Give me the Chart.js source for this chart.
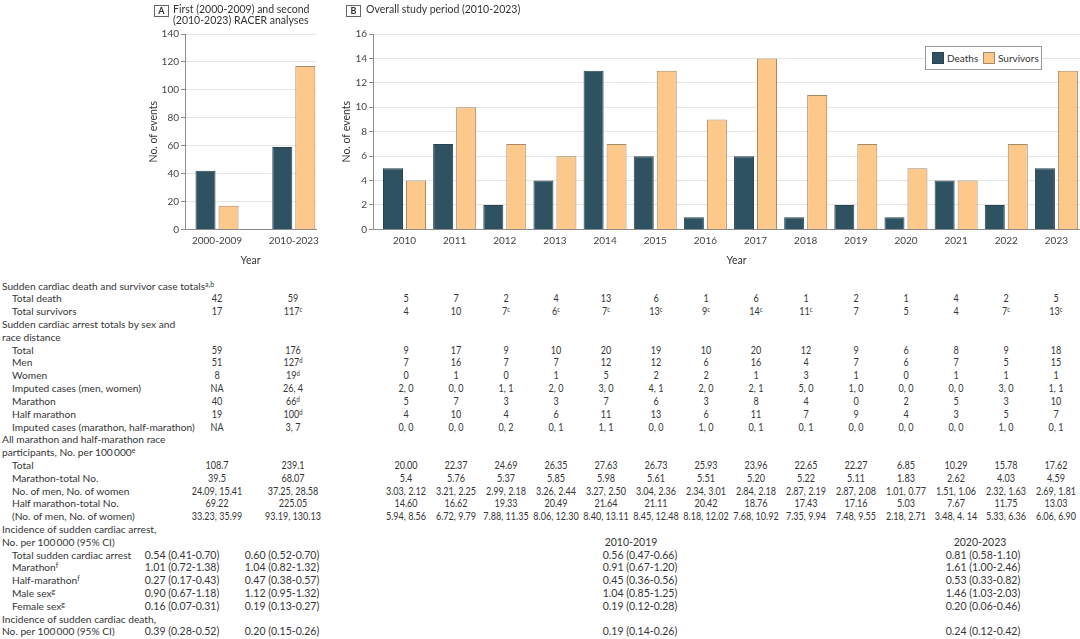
<!DOCTYPE html>
<html>
<head>
<meta charset="utf-8">
<script src="https://cdn.jsdelivr.net/npm/chart.js@4.4.1/dist/chart.umd.min.js"></script>
<style>
  html, body { margin: 0; padding: 0; background: #fff; overflow: hidden; }
  #page { position: relative; width: 1080px; height: 639px; overflow: hidden; font-family: Lato, sans-serif; color: #333; }
  canvas { position: absolute; top: 0; }
  .tag { position: absolute; top: 5px; width: 13px; height: 10px; border: 1px solid #666; font: bold 9px/10px Lato, sans-serif; text-align: center; color: #333; }
  .title { position: absolute; font-size: 10.5px; line-height: 11.4px; white-space: nowrap; }
  .cell { position: absolute; font-size: 10.5px; line-height: 12.8px; height: 12.8px; white-space: nowrap; color: #363636; }
  .cell.lab { font-size: 10.2px; }
  .cell.num { transform: scaleX(0.86); transform-origin: 50% 50%; }
  .cell sup { font-size: 7px; vertical-align: 3px; line-height: 0; }
  #legendB { position: absolute; left: 925px; top: 46px; width: 115px; height: 22px; border: 1px solid #9a9a9a; background: #fff;
             font-size: 10px; color: #333; }
  #legendB .sw { position: absolute; top: 5px; width: 12px; height: 12px; box-sizing: border-box; border: 1px solid; }
  #legendB .lb { position: absolute; top: 4px; line-height: 14px; white-space: nowrap; }
</style>
</head>
<body>
<div id="page">
  <canvas id="chartA" width="200" height="270" style="left:130px"></canvas>
  <canvas id="chartB" width="792" height="270" style="left:318px"></canvas>
  <div class="tag" style="left:154px">A</div>
  <div class="title" style="left:173px; top:4px">First (2000-2009) and second<br>(2010-2023) RACER analyses</div>
  <div class="tag" style="left:346px">B</div>
  <div class="title" style="left:366px; top:4px">Overall study period (2010-2023)</div>
  <div id="legendB"></div>
  <div id="table"></div>
</div>
<script>
// chart data
const periods = ['2000-2009', '2010-2023'];
const periodDeaths = [42, 59];
const periodSurvivors = [17, 117];
const years = ['2010', '2011', '2012', '2013', '2014', '2015', '2016', '2017', '2018', '2019', '2020', '2021', '2022', '2023'];
const deathsByYear = [5, 7, 2, 4, 13, 6, 1, 6, 1, 2, 1, 4, 2, 5];
const survivorsByYear = [4, 10, 7, 6, 7, 13, 9, 14, 11, 7, 5, 4, 7, 13];
const ticksA = [0, 20, 40, 60, 80, 100, 120, 140];
const ticksB = [0, 2, 4, 6, 8, 10, 12, 14, 16];

// table data: 2 period columns then the 14 years
const survivorNotes = ['', 'c', '', '', 'c', 'c', 'c', 'c', 'c', 'c', 'c', '', '', '', 'c', 'c'];
const arrestTotal = ['59', '176', '9', '17', '9', '10', '20', '19', '10', '20', '12', '9', '6', '8', '9', '18'];
const arrestMen = ['51', '127^d', '7', '16', '7', '7', '12', '12', '6', '16', '4', '7', '6', '7', '5', '15'];
const arrestWomen = ['8', '19^d', '0', '1', '0', '1', '5', '2', '2', '1', '3', '1', '0', '1', '1', '1'];
const imputedSex = ['NA', '26, 4', '2, 0', '0, 0', '1, 1', '2, 0', '3, 0', '4, 1', '2, 0', '2, 1', '5, 0', '1, 0', '0, 0', '0, 0', '3, 0', '1, 1'];
const arrestMarathon = ['40', '66^d', '5', '7', '3', '3', '7', '6', '3', '8', '4', '0', '2', '5', '3', '10'];
const arrestHalf = ['19', '100^d', '4', '10', '4', '6', '11', '13', '6', '11', '7', '9', '4', '3', '5', '7'];
const imputedDistance = ['NA', '3, 7', '0, 0', '0, 0', '0, 2', '0, 1', '1, 1', '0, 0', '1, 0', '0, 1', '0, 1', '0, 0', '0, 0', '0, 0', '1, 0', '0, 1'];
const partTotal = ['108.7', '239.1', '20.00', '22.37', '24.69', '26.35', '27.63', '26.73', '25.93', '23.96', '22.65', '22.27', '6.85', '10.29', '15.78', '17.62'];
const partMarathon = ['39.5', '68.07', '5.4', '5.76', '5.37', '5.85', '5.98', '5.61', '5.51', '5.20', '5.22', '5.11', '1.83', '2.62', '4.03', '4.59'];
const partMarathonSex = ['24.09, 15.41', '37.25, 28.58', '3.03, 2.12', '3.21, 2.25', '2.99, 2.18', '3.26, 2.44', '3.27, 2.50', '3.04, 2.36', '2.34, 3.01', '2.84, 2.18', '2.87, 2.19', '2.87, 2.08', '1.01, 0.77', '1.51, 1.06', '2.32, 1.63', '2.69, 1.81'];
const partHalf = ['69.22', '225.05', '14.60', '16.62', '19.33', '20.49', '21.64', '21.11', '20.42', '18.76', '17.43', '17.16', '5.03', '7.67', '11.75', '13.03'];
const partHalfSex = ['33.23, 35.99', '93.19, 130.13', '5.94, 8.56', '6.72, 9.79', '7.88, 11.35', '8.06, 12.30', '8.40, 13.11', '8.45, 12.48', '8.18, 12.02', '7.68, 10.92', '7.35, 9.94', '7.48, 9.55', '2.18, 2.71', '3.48, 4. 14', '5.33, 6.36', '6.06, 6.90'];
const incidencePeriods = ['2010-2019', '2020-2023'];
const ciTotal = ['0.54 (0.41-0.70)', '0.60 (0.52-0.70)', '0.56 (0.47-0.66)', '0.81 (0.58-1.10)'];
const ciMarathon = ['1.01 (0.72-1.38)', '1.04 (0.82-1.32)', '0.91 (0.67-1.20)', '1.61 (1.00-2.46)'];
const ciHalf = ['0.27 (0.17-0.43)', '0.47 (0.38-0.57)', '0.45 (0.36-0.56)', '0.53 (0.33-0.82)'];
const ciMale = ['0.90 (0.67-1.18)', '1.12 (0.95-1.32)', '1.04 (0.85-1.25)', '1.46 (1.03-2.03)'];
const ciFemale = ['0.16 (0.07-0.31)', '0.19 (0.13-0.27)', '0.19 (0.12-0.28)', '0.20 (0.06-0.46)'];
const ciDeath = ['0.39 (0.28-0.52)', '0.20 (0.15-0.26)', '0.19 (0.14-0.26)', '0.24 (0.12-0.42)'];

const DARK = '#2f5262', DARK_EDGE = '#28434f';
const ORANGE = '#fdc98a', ORANGE_EDGE = '#a58a66';

Chart.defaults.font.family = 'Lato, sans-serif';
Chart.defaults.color = '#444';

function yAxis(max, ticks, titlePad) {
  return {
    min: 0, max: max,
    afterBuildTicks: s => { s.ticks = ticks.map(v => ({ value: v })); },
    afterFit: s => { s.width = 55; },
    grid: { color: '#e6e6e6', tickColor: '#8c8c8c', tickLength: 4 },
    border: { color: '#8c8c8c' },
    ticks: { padding: 2, color: '#444', font: { size: 10 } },
    title: { display: true, text: 'No. of events', color: '#333', font: { size: 10.5 }, padding: { top: titlePad, bottom: 0 } }
  };
}

function xAxis(min, max, values, labelOf) {
  return {
    type: 'linear', min: min, max: max, bounds: 'data', offset: false,
    afterBuildTicks: s => { s.ticks = values.map(v => ({ value: v })); },
    grid: { display: false, drawTicks: false, offset: false },
    border: { display: true, color: '#8c8c8c' },
    ticks: { padding: 5, color: '#444', font: { size: 10 }, autoSkip: false, maxRotation: 0, callback: v => labelOf(v) },
    title: { display: true, text: 'Year', color: '#333', font: { size: 10.5 }, padding: { top: 3, bottom: 3 } }
  };
}

function barSets(deaths, survivors, xs, catPct) {
  return [
    { label: 'Deaths', data: deaths.map((v, i) => ({ x: xs[i], y: v })), backgroundColor: DARK, borderColor: DARK_EDGE,
      borderWidth: 1, categoryPercentage: catPct, barPercentage: 0.87 },
    { label: 'Survivors', data: survivors.map((v, i) => ({ x: xs[i], y: v })), backgroundColor: ORANGE, borderColor: ORANGE_EDGE,
      borderWidth: 1, categoryPercentage: catPct, barPercentage: 0.87 }
  ];
}

const baseOptions = {
  responsive: false,
  animation: false,
  events: [],
  plugins: { legend: { display: false }, tooltip: { enabled: false } }
};

const idxA = periods.map((p, i) => i);
new Chart(document.getElementById('chartA'), {
  type: 'bar',
  data: { datasets: barSets(periodDeaths, periodSurvivors, idxA, 0.6) },
  options: Object.assign({}, baseOptions, {
    layout: { padding: { top: 34, right: 14, bottom: 0, left: 0 } },
    scales: {
      x: xAxis(-0.417, 1.289, idxA, v => periods[v] || ''),
      y: yAxis(140, ticksA, 17)
    }
  })
});

const yearNums = years.map(Number);
const chartB = new Chart(document.getElementById('chartB'), {
  type: 'bar',
  data: { datasets: barSets(deathsByYear, survivorsByYear, yearNums, 0.917) },
  options: Object.assign({}, baseOptions, {
    layout: { padding: { top: 34, right: 10, bottom: 0, left: 0 } },
    scales: {
      x: xAxis(2009.372, 2023.869, yearNums, v => String(v)),
      y: yAxis(16, ticksB, 22)
    }
  })
});

// legend for panel B, drawn from the chart's datasets
const legend = document.getElementById('legendB');
const legendSlots = [{ sw: 6, lb: 21 }, { sw: 57, lb: 72 }];
chartB.data.datasets.forEach((ds, i) => {
  legend.insertAdjacentHTML('beforeend',
    '<span class="sw" style="left:' + legendSlots[i].sw + 'px;background:' + ds.backgroundColor + ';border-color:' + ds.borderColor + '"></span>' +
    '<span class="lb" style="left:' + legendSlots[i].lb + 'px">' + ds.label + '</span>');
});

// table under the charts
const table = document.getElementById('table');
const colX = [217, 293].concat(years.map((y, i) => 406 + 50 * i));
const ciX = [182, 282, 640, 983];
const lineTop = i => 279.6 + i * 12.81;
const fmt = s => String(s).replace(/\^([a-z,]+)/g, '<sup>$1</sup>');

function put(text, x, line, align, cls) {
  const d = document.createElement('div');
  d.className = 'cell' + (cls ? ' ' + cls : '');
  d.innerHTML = fmt(text);
  d.style.top = lineTop(line) + 'px';
  if (align === 'center') { d.style.left = (x - 50) + 'px'; d.style.width = '100px'; d.style.textAlign = 'center'; }
  else d.style.left = x + 'px';
  table.appendChild(d);
}
function head(text, line) { put(text, 2, line, 'left', 'lab'); }
function row(text, line, values, xs, cls) {
  put(text, 12, line, 'left', 'lab');
  values.forEach((v, i) => put(v, xs[i], line, 'center', cls));
}

const totalDeath = periodDeaths.concat(deathsByYear).map(String);
const totalSurv = periodSurvivors.concat(survivorsByYear).map((v, i) => v + (survivorNotes[i] ? '^' + survivorNotes[i] : ''));

head('Sudden cardiac death and survivor case totals^a,b', 0);
row('Total death', 1, totalDeath, colX, 'num');
row('Total survivors', 2, totalSurv, colX, 'num');
head('Sudden cardiac arrest totals by sex and', 3);
head('race distance', 4);
row('Total', 5, arrestTotal, colX, 'num');
row('Men', 6, arrestMen, colX, 'num');
row('Women', 7, arrestWomen, colX, 'num');
row('Imputed cases (men, women)', 8, imputedSex, colX, 'num');
row('Marathon', 9, arrestMarathon, colX, 'num');
row('Half marathon', 10, arrestHalf, colX, 'num');
row('Imputed cases (marathon, half-marathon)', 11, imputedDistance, colX, 'num');
head('All marathon and half-marathon race', 12);
head('participants, No. per 100\u2009000^e', 13);
row('Total', 14, partTotal, colX, 'num');
row('Marathon-total No.', 15, partMarathon, colX, 'num');
row('No. of men, No. of women', 16, partMarathonSex, colX, 'num');
row('Half marathon-total No.', 17, partHalf, colX, 'num');
row('(No. of men, No. of women)', 18, partHalfSex, colX, 'num');
head('Incidence of sudden cardiac arrest,', 19);
head('No. per 100\u2009000 (95% CI)', 20);
put(incidencePeriods[0], 631, 20, 'center');
put(incidencePeriods[1], 980, 20, 'center');
row('Total sudden cardiac arrest', 21, ciTotal, ciX);
row('Marathon^f', 22, ciMarathon, ciX);
row('Half-marathon^f', 23, ciHalf, ciX);
row('Male sex^g', 24, ciMale, ciX);
row('Female sex^g', 25, ciFemale, ciX);
head('Incidence of sudden cardiac death,', 26);
head('No. per 100\u2009000 (95% CI)', 27);
ciDeath.forEach((v, i) => put(v, ciX[i], 27, 'center'));
</script>
</body>
</html>
